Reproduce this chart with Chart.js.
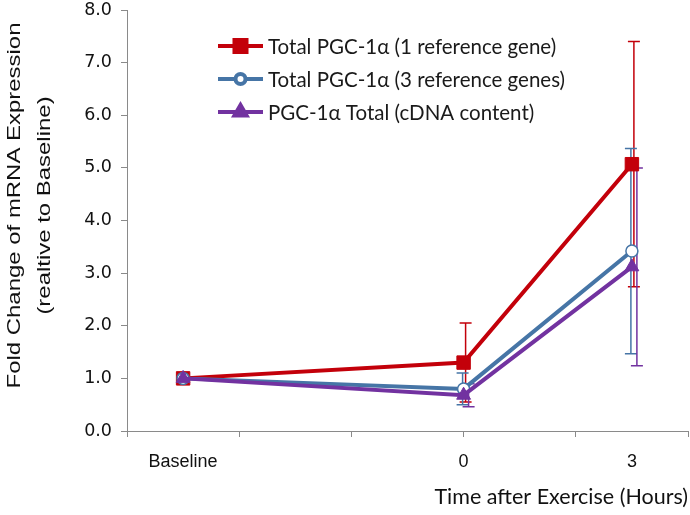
<!DOCTYPE html>
<html><head><meta charset="utf-8">
<script src="https://cdn.jsdelivr.net/npm/chart.js@4/dist/chart.umd.min.js"></script>
<style>html,body{margin:0;padding:0;background:#fff}#wrap{width:690px;height:515px}</style>
</head><body><div id="wrap"><canvas id="c" width="690" height="515"></canvas></div>
<script>
// ---- data ----
const timePoints = [-5, 0, 3];           // x positions (hours; baseline placed at -5)
const tickPositions = [-5, 0, 3];
const tickNames = ["Baseline", "0", "3"];
const yTitleLines = ["Fold Change of mRNA Expression", "(realtive to Baseline)"];
const xTitle = "Time after Exercise (Hours)";
const seriesNames = ["Total PGC-1\u03b1 (1 reference gene)", "Total PGC-1\u03b1 (3 reference genes)", "PGC-1\u03b1 Total (cDNA content)"];
const oneRefGene = [1.0, 1.3, 5.07];
const oneRefGeneErr = [0, 0.75, 2.33];
const threeRefGenes = [1.0, 0.8, 3.42];
const threeRefGenesErr = [0, 0.3, 1.95];
const cdnaContent = [1.0, 0.68, 3.12];
const cdnaContentErr = [0, 0.22, 1.88];

const RED = '#C3000A', BLUE = '#4675A6', PURPLE = '#7232A0', AXIS = '#8a8a8a';

function pts(ys) { return ys.map((y, i) => ({x: timePoints[i], y})); }

const errorBars = {
  id: 'errorBars',
  beforeDatasetsDraw(chart) {
    const ctx = chart.ctx, xs = chart.scales.x, ys = chart.scales.y;
    chart.data.datasets.forEach((ds) => {
      const errs = ds.errors; if (!errs) return;
      ctx.save();
      ctx.strokeStyle = ds.borderColor; ctx.lineWidth = 1.5;
      ds.data.forEach((p, i) => {
        const e = errs[i]; if (!e) return;
        const x = xs.getPixelForValue(p.x) + (ds.errOffset || 0);
        const t = ys.getPixelForValue(p.y + e), b = ys.getPixelForValue(p.y - e);
        ctx.beginPath();
        ctx.moveTo(x, t); ctx.lineTo(x, b);
        ctx.moveTo(x - 6, t); ctx.lineTo(x + 6, t);
        ctx.moveTo(x - 6, b); ctx.lineTo(x + 6, b);
        ctx.stroke();
      });
      ctx.restore();
    });
  }
};

const innerLegend = {
  id: 'innerLegend',
  afterDraw(chart) {
    const ctx = chart.ctx;
    const x0 = 218, lineLen = 45, y0 = 46, gap = 33;
    ctx.save();
    ctx.font = '20.5px Lato, "Liberation Sans", sans-serif';
    ctx.textBaseline = 'middle';
    chart.data.datasets.forEach((ds, i) => {
      const y = y0 + i * gap;
      ctx.strokeStyle = ds.borderColor; ctx.lineWidth = 4;
      ctx.beginPath(); ctx.moveTo(x0, y); ctx.lineTo(x0 + lineLen, y); ctx.stroke();
      ctx.fillStyle = ds.pointBackgroundColor; ctx.strokeStyle = ds.pointBorderColor || ds.borderColor;
      Chart.helpers.drawPoint(ctx, {pointStyle: ds.pointStyle, radius: ds.legendRadius, borderWidth: ds.pointBorderWidth, rotation: 0}, x0 + lineLen / 2, y);
      ctx.fillStyle = '#1a1a1a';
      ctx.fillText(ds.label, x0 + lineLen + 5, y + 1);
    });
    ctx.restore();
  }
};

// y-axis title (text is slightly stretched along its length in the original)
const yTitle = {
  id: 'yTitle',
  afterDraw(chart) {
    const ctx = chart.ctx;
    const cy = (chart.chartArea.top + chart.chartArea.bottom) / 2;
    ctx.save();
    ctx.font = '18px "Liberation Sans", Arial, sans-serif';
    ctx.fillStyle = '#111';
    ctx.textAlign = 'center'; ctx.textBaseline = 'middle';
    [15, 45].forEach((x, i) => {
      ctx.save();
      ctx.translate(x, cy - 15);
      ctx.rotate(-Math.PI / 2);
      ctx.scale(1.33, 1);
      ctx.fillText(yTitleLines[i], 0, 0);
      ctx.restore();
    });
    ctx.restore();
  }
};

new Chart(document.getElementById('c'), {
  type: 'line',
  data: {
    datasets: [
      {label: seriesNames[0], data: pts(oneRefGene), errors: oneRefGeneErr, errOffset: 2, order: 3,
       borderColor: RED, backgroundColor: RED, borderWidth: 4, pointStyle: 'rect', pointRadius: 9.5, legendRadius: 8.5,
       pointBackgroundColor: RED, pointBorderColor: RED, pointBorderWidth: 1},
      {label: seriesNames[1], data: pts(threeRefGenes), errors: threeRefGenesErr, errOffset: -1, order: 2,
       borderColor: BLUE, backgroundColor: BLUE, borderWidth: 4, pointStyle: 'circle', pointRadius: 6, legendRadius: 5,
       pointBackgroundColor: '#ffffff', pointBorderColor: BLUE, pointBorderWidth: 1.5},
      {label: seriesNames[2], data: pts(cdnaContent), errors: cdnaContentErr, errOffset: 5, order: 1,
       borderColor: PURPLE, backgroundColor: PURPLE, borderWidth: 4, pointStyle: 'triangle', pointRadius: 8, legendRadius: 7,
       pointBackgroundColor: PURPLE, pointBorderColor: PURPLE, pointBorderWidth: 1}
    ]
  },
  options: {
    responsive: false, animation: false, devicePixelRatio: 1,
    layout: {autoPadding: false, padding: {left: 0, top: 10, right: 2, bottom: 0}},
    plugins: {legend: {display: false}, tooltip: {enabled: false}},
    scales: {
      x: {
        type: 'linear', min: -6, max: 4,
        afterBuildTicks(s) { s.ticks = [-6, -5, -4, -2, 0, 2, 3, 4].map(v => ({value: v})); },
        afterFit(s) { s.height = 84; s.paddingLeft = 0; s.paddingRight = 0; },
        grid: {drawOnChartArea: false, tickLength: 6, lineWidth: 1,
               tickColor: c => (c.tick && c.tick.value % 2 === 0) ? AXIS : 'rgba(0,0,0,0)'},
        border: {color: AXIS, width: 1},
        ticks: {autoSkip: false, maxRotation: 0, padding: 14, color: '#111',
                font: {family: '"Liberation Sans", Arial, sans-serif', size: 18},
                callback: v => { const k = tickPositions.indexOf(v); return k >= 0 ? tickNames[k] : ''; }},
        title: {display: true, text: xTitle, align: 'end', color: '#111',
                font: {family: 'Lato, "Liberation Sans", sans-serif', size: 21.5}, padding: {top: 2, bottom: 5}}
      },
      y: {
        min: 0, max: 8,
        afterFit(s) { s.width = 127; s.paddingTop = 0; s.paddingBottom = 0; },
        grid: {drawOnChartArea: false, tickLength: 6, color: AXIS},
        border: {color: AXIS, width: 1},
        ticks: {stepSize: 1, padding: 9, color: '#111',
                font: {family: '"DejaVu Sans", Verdana, sans-serif', size: 17.5},
                callback: v => v.toFixed(1)},
        title: {display: false}
      }
    }
  },
  plugins: [errorBars, innerLegend, yTitle]
});
</script></body></html>
